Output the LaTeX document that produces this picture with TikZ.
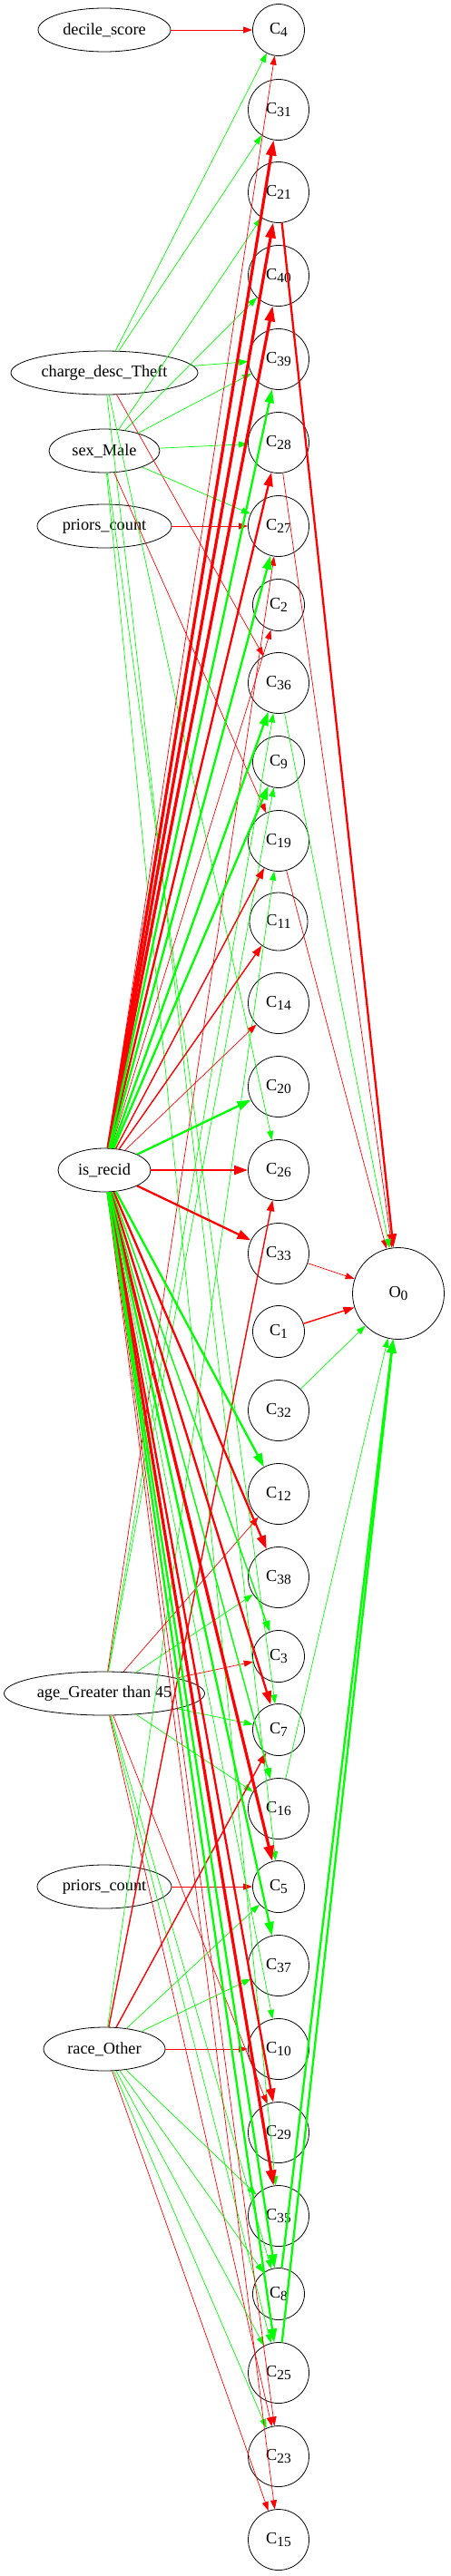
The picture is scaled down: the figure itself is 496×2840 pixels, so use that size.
\documentclass[tikz,border=0pt]{standalone}
\usepackage{fontspec}
\setmainfont{Liberation Serif}
\usetikzlibrary{shapes.geometric,arrows.meta}
\definecolor{rd}{RGB}{255,0,0}
\definecolor{gr}{RGB}{0,255,0}
\newcommand\fs{\fontsize{18.3}{20}\selectfont}
\newcommand\cl[2]{#1\raisebox{-0.35ex}{\fontsize{15.5}{16}\selectfont #2}}
\tikzset{
 featnode/.style={draw, ellipse, line width=0.8pt, inner sep=0pt, minimum height=48pt, font=\fs},
 cbig/.style={draw, circle, line width=0.8pt, inner sep=0pt, minimum size=67pt, font=\fs},
 csmall/.style={cbig, minimum size=57pt},
 cmid/.style={cbig, minimum size=64pt},
 cout/.style={cbig, minimum size=101pt},
 tipS/.style={-{Triangle[length=10pt,width=7pt]}},
 tipM/.style={-{Triangle[length=12pt,width=8.5pt]}},
 tipL/.style={-{Triangle[length=15pt,width=10pt]}},
 tipX/.style={-{Triangle[length=17pt,width=11pt]}},
 eRt/.style={rd, line width=0.7pt, tipS},
 eRm/.style={rd, line width=1.4pt, tipM},
 eRk/.style={rd, line width=2.3pt, tipL},
 eRv/.style={rd, line width=3.2pt, tipX},
 eGt/.style={gr, line width=0.7pt, tipS},
 eGm/.style={gr, line width=1.4pt, tipM},
 eGk/.style={gr, line width=2.3pt, tipL},
}
\begin{document}
\begin{tikzpicture}[x=1pt,y=-1pt]
\useasboundingbox (0,0) rectangle (496,2840);
% features
\node[featnode, minimum width=146pt] (dec) at (115,33) {decile\_score};
\node[featnode, minimum width=206pt] (chg) at (115,411) {charge\_desc\_Theft};
\node[featnode, minimum width=122pt] (sex) at (115,497) {sex\_Male};
\node[featnode, minimum width=148pt] (pr1) at (115,580) {priors\_count};
\node[featnode, minimum width=102pt] (rec) at (115,1290) {is\_recid};
\node[featnode, minimum width=221pt] (age) at (115,1867) {age\_Greater than 45};
\node[featnode, minimum width=148pt] (pr2) at (115,2080) {priors\_count};
\node[featnode, minimum width=134pt] (race) at (115,2259) {race\_Other};
% clauses
\node[csmall] (c4) at (307,33) {\cl{C}{4}};
\node[cbig] (c31) at (307,121) {\cl{C}{31}};
\node[cbig] (c21) at (307,212) {\cl{C}{21}};
\node[cbig] (c40) at (307,304) {\cl{C}{40}};
\node[cbig] (c39) at (307,396) {\cl{C}{39}};
\node[cbig] (c28) at (307,488) {\cl{C}{28}};
\node[cbig] (c27) at (307,580) {\cl{C}{27}};
\node[csmall] (c2) at (307,667) {\cl{C}{2}};
\node[cbig] (c36) at (307,753) {\cl{C}{36}};
\node[csmall] (c9) at (307,840) {\cl{C}{9}};
\node[cbig] (c19) at (307,927) {\cl{C}{19}};
\node[cmid] (c11) at (307,1016) {\cl{C}{11}};
\node[cbig] (c14) at (307,1106) {\cl{C}{14}};
\node[cbig] (c20) at (307,1198) {\cl{C}{20}};
\node[cbig] (c26) at (307,1290) {\cl{C}{26}};
\node[cbig] (c33) at (307,1382) {\cl{C}{33}};
\node[csmall] (c1) at (307,1468) {\cl{C}{1}};
\node[cbig] (c32) at (307,1555) {\cl{C}{32}};
\node[cbig] (c12) at (307,1647) {\cl{C}{12}};
\node[cbig] (c38) at (307,1739) {\cl{C}{38}};
\node[csmall] (c3) at (307,1826) {\cl{C}{3}};
\node[csmall] (c7) at (307,1907) {\cl{C}{7}};
\node[cbig] (c16) at (307,1994) {\cl{C}{16}};
\node[csmall] (c5) at (307,2080) {\cl{C}{5}};
\node[cbig] (c37) at (307,2167) {\cl{C}{37}};
\node[cbig] (c10) at (307,2259) {\cl{C}{10}};
\node[cbig] (c29) at (307,2351) {\cl{C}{29}};
\node[cbig] (c35) at (307,2443) {\cl{C}{35}};
\node[csmall] (c8) at (307,2529) {\cl{C}{8}};
\node[cbig] (c25) at (307,2616) {\cl{C}{25}};
\node[cbig] (c23) at (307,2708) {\cl{C}{23}};
\node[cbig] (c15) at (307,2800) {\cl{C}{15}};
\node[cout] (o0) at (439,1426) {\cl{O}{0}};
% thin edges from other features
\draw[eRt] (dec) -- (c4);
\foreach \t in {c4,c31,c39,c5,c26} \draw[eGt] (chg) -- (\t);
\draw[eRt] (chg) -- (c36);
\foreach \t in {c21,c40,c39,c28,c27,c7,c35} \draw[eGt] (sex) -- (\t);
\draw[eRt] (sex) -- (c19);
\draw[eRt] (pr1) -- (c27);
\foreach \t in {c36,c9,c38,c7,c16,c8,c25} \draw[eGt] (age) -- (\t);
\foreach \t in {c27,c12,c3,c23,c29} \draw[eRt] (age) -- (\t);
\draw[eRt] (pr2) -- (c5);
\foreach \t in {c19,c5,c37,c35,c8,c25,c23} \draw[eGt] (race) -- (\t);
\foreach \t in {c10,c15} \draw[eRt] (race) -- (\t);
\foreach \t in {c26,c7} \draw[eRm] (race) -- (\t);
% is_recid edges
\foreach \t in {c4,c2,c14,c23,c15} \draw[eRt] (rec) -- (\t);
\foreach \t in {c19,c11} \draw[eRm] (rec) -- (\t);
\foreach \t in {c28,c26,c33,c38,c7,c29} \draw[eRk] (rec) -- (\t);
\foreach \t in {c31,c21,c40,c5,c35} \draw[eRv] (rec) -- (\t);
\draw[eGt] (rec) -- (c10);
\foreach \t in {c3,c16} \draw[eGm] (rec) -- (\t);
\foreach \t in {c39,c27,c36,c9,c20,c12,c37,c8,c25} \draw[eGk] (rec) -- (\t);
% clauses to output
\foreach \t in {c28,c19,c33} \draw[eRt] (\t) -- (o0);
\draw[eRm] (c1) -- (o0);
\draw[eRk] (c21) -- (o0);
\foreach \t in {c36,c32,c16} \draw[eGt] (\t) -- (o0);
\foreach \t in {c8,c25} \draw[eGk] (\t) -- (o0);
\end{tikzpicture}
\end{document}
